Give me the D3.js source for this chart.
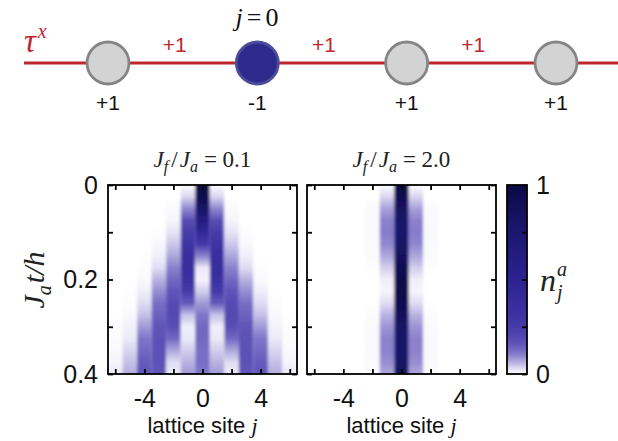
<!DOCTYPE html>
<html><head><meta charset="utf-8">
<script src="https://cdn.jsdelivr.net/npm/d3@7"></script>
<style>body{margin:0;background:#fff}svg{display:block}</style>
</head><body><svg id="c" width="618" height="441"></svg>
<script>
// ---------------- data ----------------
const sites = [-6, -5, -4, -3, -2, -1, 0, 1, 2, 3, 4, 5, 6];
const times = [0, 0.025, 0.05, 0.075, 0.1, 0.125, 0.15, 0.175, 0.2, 0.225, 0.25, 0.275, 0.3, 0.325, 0.35, 0.375, 0.4];
// n_j^a for J_f/J_a = 0.1 (rows: times, columns: sites)
const densityWeak = [
  [0,0,0,0,0,0,1.00,0,0,0,0,0,0],
  [0,0,0,0,0,0.035,0.93,0.035,0,0,0,0,0],
  [0,0,0,0,0.005,0.095,0.80,0.095,0.005,0,0,0,0],
  [0,0,0,0,0.01,0.18,0.62,0.18,0.01,0,0,0,0],
  [0,0,0,0.002,0.025,0.25,0.45,0.25,0.025,0.002,0,0,0],
  [0,0,0,0.006,0.045,0.31,0.28,0.31,0.045,0.006,0,0,0],
  [0,0,0.001,0.015,0.07,0.37,0.10,0.37,0.07,0.015,0.001,0,0],
  [0,0,0.002,0.03,0.10,0.37,0.02,0.37,0.10,0.03,0.002,0,0],
  [0,0,0.005,0.06,0.13,0.33,0.01,0.33,0.13,0.06,0.005,0,0],
  [0,0.001,0.015,0.09,0.16,0.26,0.04,0.26,0.16,0.09,0.015,0.001,0],
  [0,0.003,0.03,0.12,0.19,0.15,0.08,0.15,0.19,0.12,0.03,0.003,0],
  [0.001,0.006,0.05,0.14,0.20,0.05,0.11,0.05,0.20,0.14,0.05,0.006,0.001],
  [0.002,0.012,0.08,0.16,0.18,0.015,0.13,0.015,0.18,0.16,0.08,0.012,0.002],
  [0.003,0.02,0.11,0.17,0.13,0.02,0.13,0.02,0.13,0.17,0.11,0.02,0.003],
  [0.005,0.035,0.13,0.17,0.07,0.04,0.12,0.04,0.07,0.17,0.13,0.035,0.005],
  [0.01,0.05,0.15,0.17,0.03,0.06,0.12,0.06,0.03,0.17,0.15,0.05,0.01],
  [0.02,0.065,0.16,0.16,0.02,0.08,0.11,0.08,0.02,0.16,0.16,0.065,0.02]
];
// n_j^a for J_f/J_a = 2.0
const densityStrong = [
  [0,0,0,0,0,0,1.00,0,0,0,0,0,0],
  [0,0,0,0,0,0.035,0.93,0.035,0,0,0,0,0],
  [0,0,0,0,0.005,0.075,0.84,0.075,0.005,0,0,0,0],
  [0,0,0,0,0.005,0.10,0.79,0.10,0.005,0,0,0,0],
  [0,0,0,0,0.006,0.105,0.78,0.105,0.006,0,0,0,0],
  [0,0,0,0,0.005,0.095,0.80,0.095,0.005,0,0,0,0],
  [0,0,0,0,0.004,0.07,0.85,0.07,0.004,0,0,0,0],
  [0,0,0,0,0.002,0.04,0.92,0.04,0.002,0,0,0,0],
  [0,0,0,0,0,0.015,0.97,0.015,0,0,0,0,0],
  [0,0,0,0,0,0.01,0.98,0.01,0,0,0,0,0],
  [0,0,0,0,0.001,0.03,0.94,0.03,0.001,0,0,0,0],
  [0,0,0,0,0.003,0.06,0.88,0.06,0.003,0,0,0,0],
  [0,0,0,0,0.005,0.085,0.82,0.085,0.005,0,0,0,0],
  [0,0,0,0,0.006,0.10,0.79,0.10,0.006,0,0,0,0],
  [0,0,0,0,0.006,0.10,0.79,0.10,0.006,0,0,0,0],
  [0,0,0,0,0.005,0.09,0.81,0.09,0.005,0,0,0,0],
  [0,0,0,0,0.004,0.07,0.85,0.07,0.004,0,0,0,0]
];
const panelRatios = ["0.1", "2.0"];
const xTickValues = [-6, -4, -2, 0, 2, 4, 6];
const xTickLabels = {"-4": "-4", "0": "0", "4": "4"};
const yTickValues = [0, 0.1, 0.2, 0.3, 0.4];
const yTickLabels = {"0": "0", "0.2": "0.2", "0.4": "0.4"};
const cbTickValues = [0, 0.25, 0.5, 0.75, 1];
const cbTickLabels = {"0": "0", "1": "1"};
// chain diagram
const chainCharges = ["+1", "-1", "+1", "+1"];
const chainLinks = ["+1", "+1", "+1"];

// ---------------- style ----------------
const cmapStops = [0, 0.025, 0.06, 0.11, 0.16, 0.22, 0.32, 0.5, 0.75, 1];
const cmapColors = ["#ffffff", "#e6e3f5", "#b9b2e1", "#7f75c8", "#5f54b8", "#4c40ad", "#3c31a3", "#2b2391", "#1b1770", "#0b0944"];
const cmap = d3.scaleLinear().domain(cmapStops).range(cmapColors).interpolate(d3.interpolateRgb).clamp(true);
const sansFont = "'Liberation Sans', Arial, Helvetica, sans-serif";
const serifFont = "'Liberation Serif', 'Times New Roman', serif";
const red = "#c0262d";

const svg = d3.select("#c");
const defs = svg.append("defs");
defs.append("filter").attr("id", "hblur").attr("x", "-5%").attr("y", "0%").attr("width", "110%").attr("height", "100%")
  .append("feGaussianBlur").attr("stdDeviation", "1.4 0");

// ---------------- chain diagram ----------------
const chainX = d3.scaleLinear().domain([0, chainCharges.length - 1]).range([108, 556]);
const chainY = 63;
svg.append("line").attr("x1", 24).attr("x2", 618).attr("y1", chainY).attr("y2", chainY)
  .attr("stroke", red).attr("stroke-width", 2.8);
svg.selectAll("circle.site").data(chainCharges).join("circle").attr("class", "site")
  .attr("cx", (d, i) => chainX(i)).attr("cy", chainY).attr("r", 21)
  .attr("fill", d => d === "-1" ? "#2c2b8c" : "#d3d3d3")
  .attr("stroke", d => d === "-1" ? "#4d4c9c" : "#858585").attr("stroke-width", 2.8);
svg.selectAll("text.charge").data(chainCharges).join("text").attr("class", "charge")
  .attr("x", (d, i) => chainX(i)).attr("y", 110).attr("text-anchor", "middle")
  .attr("font-family", sansFont).attr("font-size", 21).attr("fill", "#111").text(d => d);
svg.selectAll("text.link").data(chainLinks).join("text").attr("class", "link")
  .attr("x", (d, i) => (chainX(i) + chainX(i + 1)) / 2 - 8).attr("y", 52).attr("text-anchor", "middle")
  .attr("font-family", sansFont).attr("font-size", 21).attr("fill", red).text(d => d);
const tau = svg.append("text").attr("x", 24).attr("y", 52).attr("font-family", serifFont).attr("fill", red);
tau.append("tspan").attr("font-style", "italic").attr("font-size", 33).text("τ");
tau.append("tspan").attr("font-style", "italic").attr("font-size", 20).attr("dy", -14).attr("dx", 2).text("x");
const j0 = svg.append("text").attr("x", 257).attr("y", 26).attr("text-anchor", "middle")
  .attr("font-family", serifFont).attr("font-size", 26).attr("fill", "#111");
j0.append("tspan").attr("font-style", "italic").text("j");
j0.append("tspan").attr("dx", 4).text("=");
j0.append("tspan").attr("dx", 4).text("0");

// ---------------- heatmaps ----------------
const y = d3.scaleLinear().domain([0, 0.4]).range([185, 374]);
const panels = [
  {data: densityWeak, x0: 108, x1: 297, ratio: panelRatios[0]},
  {data: densityStrong, x0: 307, x1: 496, ratio: panelRatios[1]}
];

panels.forEach((p, pi) => {
  const x = d3.scaleLinear().domain([-6.5, 6.5]).range([p.x0, p.x1]);
  const clipId = "clip" + pi;
  defs.append("clipPath").attr("id", clipId).append("rect")
    .attr("x", p.x0).attr("y", y(0)).attr("width", p.x1 - p.x0).attr("height", y(0.4) - y(0));
  sites.forEach((s, k) => {
    const g = defs.append("linearGradient").attr("id", `g${pi}_${k}`)
      .attr("x1", 0).attr("y1", 0).attr("x2", 0).attr("y2", 1);
    times.forEach((t, r) => {
      g.append("stop").attr("offset", t / 0.4).attr("stop-color", cmap(p.data[r][k]));
    });
  });
  const cells = svg.append("g").attr("clip-path", `url(#${clipId})`)
    .append("g").attr("filter", "url(#hblur)");
  cells.append("rect").attr("x", p.x0 - 5).attr("y", y(0)).attr("width", p.x1 - p.x0 + 10)
    .attr("height", y(0.4) - y(0)).attr("fill", cmap(0));
  cells.selectAll("rect.col").data(sites).join("rect").attr("class", "col")
    .attr("x", d => x(d - 0.5)).attr("width", d => x(d + 0.5) - x(d - 0.5))
    .attr("y", y(0)).attr("height", y(0.4) - y(0))
    .attr("fill", (d, k) => `url(#g${pi}_${k})`);

  // axes
  const fmtX = d => xTickLabels[String(d)] || "";
  const fmtY = d => yTickLabels[String(+d.toFixed(2))] || "";
  const bottom = svg.append("g").attr("transform", `translate(0,${y(0.4)})`)
    .call(d3.axisBottom(x).tickValues(xTickValues).tickSize(-5).tickPadding(15).tickFormat(fmtX));
  const top = svg.append("g").attr("transform", `translate(0,${y(0)})`)
    .call(d3.axisTop(x).tickValues(xTickValues).tickSize(-5).tickFormat(""));
  const left = svg.append("g").attr("transform", `translate(${p.x0},0)`)
    .call(d3.axisLeft(y).tickValues(yTickValues).tickSize(-5).tickPadding(10).tickFormat(pi === 0 ? fmtY : () => ""));
  const right = svg.append("g").attr("transform", `translate(${p.x1},0)`)
    .call(d3.axisRight(y).tickValues(yTickValues).tickSize(-5).tickFormat(""));
  [bottom, top, left, right].forEach(a => {
    a.select(".domain").remove();
    a.selectAll("line").attr("stroke", "#000").attr("stroke-width", 1.8);
    a.selectAll("text").attr("font-family", sansFont).attr("font-size", 25).attr("fill", "#111");
  });
  svg.append("rect").attr("x", p.x0).attr("y", y(0)).attr("width", p.x1 - p.x0).attr("height", y(0.4) - y(0))
    .attr("fill", "none").attr("stroke", "#000").attr("stroke-width", 1.8);

  // title
  const cx = (p.x0 + p.x1) / 2;
  const tt = svg.append("text").attr("x", cx).attr("y", 167).attr("text-anchor", "middle")
    .attr("font-family", serifFont).attr("font-size", 23).attr("fill", "#222");
  tt.append("tspan").attr("font-style", "italic").text("J");
  tt.append("tspan").attr("font-style", "italic").attr("font-size", 16).attr("dy", 5).text("f");
  tt.append("tspan").attr("dy", -5).attr("dx", 3).text("/");
  tt.append("tspan").attr("font-style", "italic").attr("dx", 2).text("J");
  tt.append("tspan").attr("font-style", "italic").attr("font-size", 16).attr("dy", 5).text("a");
  tt.append("tspan").attr("dy", -5).attr("dx", 6).text("= " + p.ratio);

  // x label
  const xl = svg.append("text").attr("x", cx).attr("y", 433).attr("text-anchor", "middle")
    .attr("font-family", sansFont).attr("font-size", 22).attr("fill", "#111");
  xl.append("tspan").text("lattice site ");
  xl.append("tspan").attr("font-family", serifFont).attr("font-style", "italic").text("j");
});

// y label
const yl = svg.append("text").attr("transform", "translate(44,280) rotate(-90)").attr("text-anchor", "middle")
  .attr("font-family", serifFont).attr("font-size", 30).attr("fill", "#222");
yl.append("tspan").attr("font-style", "italic").text("J");
yl.append("tspan").attr("font-style", "italic").attr("font-size", 20).attr("dy", 7).text("a");
yl.append("tspan").attr("font-style", "italic").attr("dy", -7).attr("dx", 2).text("t/h");

// ---------------- colorbar ----------------
const cbX0 = 507, cbX1 = 527;
const cbScale = d3.scaleLinear().domain([0, 1]).range([374, 185]);
const cbGrad = defs.append("linearGradient").attr("id", "cbgrad").attr("x1", 0).attr("y1", 1).attr("x2", 0).attr("y2", 0);
d3.range(0, 1.0001, 0.02).forEach(v => cbGrad.append("stop").attr("offset", v).attr("stop-color", cmap(v)));
svg.append("rect").attr("x", cbX0).attr("y", cbScale(1)).attr("width", cbX1 - cbX0).attr("height", cbScale(0) - cbScale(1))
  .attr("fill", "url(#cbgrad)");
const cbAxis = svg.append("g").attr("transform", `translate(${cbX1},0)`)
  .call(d3.axisRight(cbScale).tickValues(cbTickValues).tickSize(-5).tickPadding(9)
    .tickFormat(d => cbTickLabels[String(d)] || ""));
cbAxis.select(".domain").remove();
cbAxis.selectAll("line").attr("stroke", "#000").attr("stroke-width", 1.8);
cbAxis.selectAll("text").attr("font-family", sansFont).attr("font-size", 25).attr("fill", "#111");
svg.append("rect").attr("x", cbX0).attr("y", cbScale(1)).attr("width", cbX1 - cbX0).attr("height", cbScale(0) - cbScale(1))
  .attr("fill", "none").attr("stroke", "#000").attr("stroke-width", 1.8);
svg.append("text").attr("x", 540).attr("y", 291).attr("font-family", serifFont).attr("font-style", "italic")
  .attr("font-size", 32).attr("fill", "#222").text("n");
svg.append("text").attr("x", 557).attr("y", 276).attr("font-family", serifFont).attr("font-style", "italic")
  .attr("font-size", 20).attr("fill", "#222").text("a");
svg.append("text").attr("x", 557).attr("y", 299).attr("font-family", serifFont).attr("font-style", "italic")
  .attr("font-size", 20).attr("fill", "#222").text("j");
</script>
</body></html>
